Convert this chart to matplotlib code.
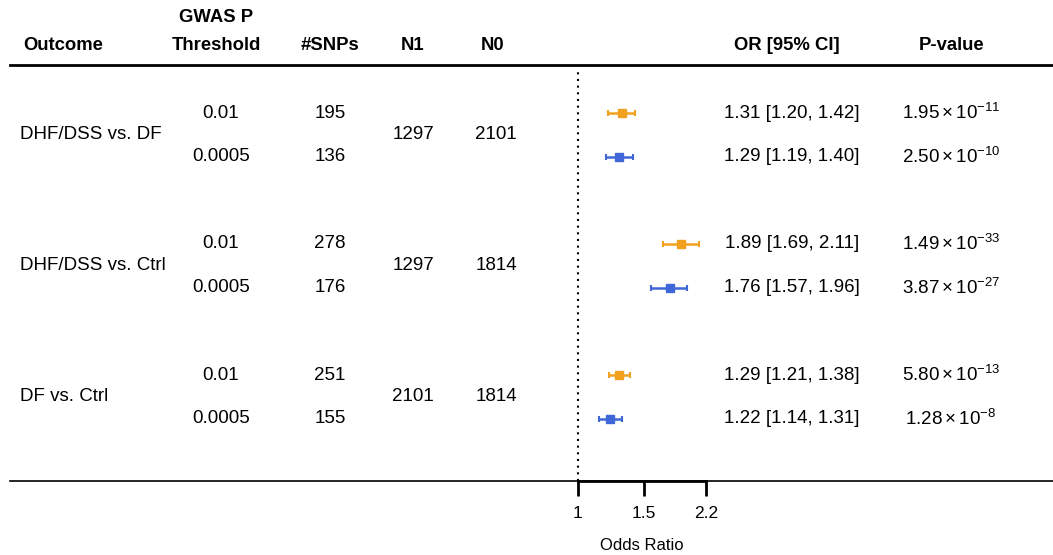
import numpy as np
import matplotlib
matplotlib.use("Agg")
import matplotlib.pyplot as plt

plt.rcParams["font.family"] = ["Liberation Sans", "DejaVu Sans"]
plt.rcParams["mathtext.fontset"] = "custom"
plt.rcParams["mathtext.rm"] = "Liberation Sans"
plt.rcParams["mathtext.it"] = "Liberation Sans:italic"

# data
outcomes = ["DHF/DSS vs. DF", "DHF/DSS vs. Ctrl", "DF vs. Ctrl"]
n1 = [1297, 1297, 2101]
n0 = [2101, 1814, 1814]
thresholds = ["0.01", "0.0005"]
n_snps = [195, 136, 278, 176, 251, 155]
odds = [1.31, 1.29, 1.89, 1.76, 1.29, 1.22]
ci_low = [1.20, 1.19, 1.69, 1.57, 1.21, 1.14]
ci_high = [1.42, 1.40, 2.11, 1.96, 1.38, 1.31]
p_mant = ["1.95", "2.50", "1.49", "3.87", "5.80", "1.28"]
p_exp = [-11, -10, -33, -27, -13, -8]
x_ticks = [1, 1.5, 2.2]

colors = ["#F2A11F", "#3F67D8"]  # 0.01, 0.0005

W, H = 1053, 555
fig = plt.figure(figsize=(W / 100, H / 100), dpi=100)

# table layer in pixel coordinates
tab = fig.add_axes([0, 0, 1, 1])
tab.set_xlim(0, W)
tab.set_ylim(H, 0)
tab.axis("off")

y_head = 65
y_bottom = 481
row_y = [113 + g * 131 + j * 43.5 for g in range(3) for j in range(2)]
fs = 13.5
hfs = 13.3

# header
tab.text(63, 45, "Outcome", ha="center", va="center", fontsize=hfs, fontweight="bold")
tab.text(216, 18, "GWAS P", ha="center", va="center", fontsize=hfs, fontweight="bold")
tab.text(216, 45, "Threshold", ha="center", va="center", fontsize=hfs, fontweight="bold")
tab.text(330, 45, "#SNPs", ha="center", va="center", fontsize=hfs, fontweight="bold")
tab.text(413, 45, "N1", ha="center", va="center", fontsize=hfs, fontweight="bold")
tab.text(493, 45, "N0", ha="center", va="center", fontsize=hfs, fontweight="bold")
tab.text(787, 45, "OR [95% CI]", ha="center", va="center", fontsize=hfs, fontweight="bold")
tab.text(952, 45, "P-value", ha="center", va="center", fontsize=hfs, fontweight="bold")

tab.plot([10, W], [y_head, y_head], color="black", lw=2)
tab.plot([10, W], [y_bottom, y_bottom], color="black", lw=1.2)

for g in range(3):
    yc = (row_y[2 * g] + row_y[2 * g + 1]) / 2
    tab.text(20, yc, outcomes[g], ha="left", va="center", fontsize=fs)
    tab.text(413, yc, str(n1[g]), ha="center", va="center", fontsize=fs)
    tab.text(496, yc, str(n0[g]), ha="center", va="center", fontsize=fs)

for i, y in enumerate(row_y):
    tab.text(221, y, thresholds[i % 2], ha="center", va="center", fontsize=fs)
    tab.text(330, y, str(n_snps[i]), ha="center", va="center", fontsize=fs)
    tab.text(792, y, f"{odds[i]:.2f} [{ci_low[i]:.2f}, {ci_high[i]:.2f}]",
             ha="center", va="center", fontsize=fs)
    tab.text(951, y, rf"${p_mant[i]}\times10^{{{p_exp[i]}}}$",
             ha="center", va="center", fontsize=fs)

# forest layer
fx0, fx1 = 578, 706
ax = fig.add_axes([fx0 / W, 1 - y_bottom / H, (fx1 - fx0) / W, (y_bottom - y_head) / H])
ax.set_xscale("log")
ax.set_xlim(1, 2.2)
ax.set_ylim(y_bottom, y_head)
ax.patch.set_visible(False)
for s in ["top", "right", "left"]:
    ax.spines[s].set_visible(False)
ax.spines["bottom"].set_linewidth(2)
ax.set_yticks([])
ax.set_xticks(x_ticks)
ax.set_xticklabels([str(t) for t in x_ticks])
ax.xaxis.set_minor_locator(matplotlib.ticker.NullLocator())
ax.tick_params(axis="x", length=11, width=2, labelsize=12.5, pad=7)
ax.set_xlabel("Odds Ratio", fontsize=12, labelpad=12)

ax.plot([1, 1], [y_bottom, y_head + 6], ls=(0, (1, 2.2)), color="black", lw=1.5, clip_on=False)

for i, y in enumerate(row_y):
    ax.errorbar(odds[i], y, xerr=[[odds[i] - ci_low[i]], [ci_high[i] - odds[i]]],
                fmt="s", color=colors[i % 2], ms=6, elinewidth=1.8, capsize=2.5,
                capthick=1.5, clip_on=False)

fig.savefig("out.png", dpi=100)
